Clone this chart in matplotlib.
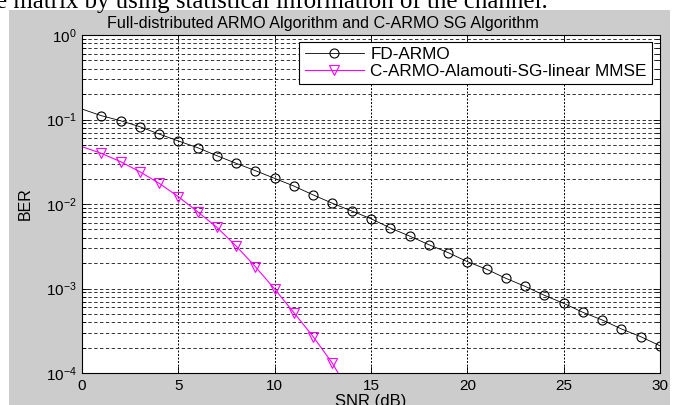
import numpy as np
import matplotlib
matplotlib.use("Agg")
import matplotlib.pyplot as plt
from matplotlib.patches import Rectangle
from matplotlib.ticker import LogLocator, NullFormatter, MultipleLocator

plt.rcParams['font.family'] = ['Liberation Sans', 'DejaVu Sans']
plt.rcParams['mathtext.fontset'] = 'custom'
plt.rcParams['mathtext.rm'] = 'Liberation Sans'
plt.rcParams['mathtext.it'] = 'Liberation Sans'

# values
snr_fd = list(range(0, 31))
ber_fd = [0.133, 0.111, 0.0968, 0.0822, 0.0673, 0.0557, 0.0464, 0.0373, 0.0303,
          0.0248, 0.0201, 0.0163, 0.0128, 0.0102, 0.00826, 0.0067, 0.0052,
          0.00418, 0.0033, 0.00266, 0.00208, 0.00169, 0.00132, 0.00106,
          8.3e-4, 6.67e-4, 5.22e-4, 4.24e-4, 3.32e-4, 2.69e-4, 2.1e-4]

snr_c = list(range(0, 15))
ber_c = [0.0477, 0.0398, 0.0317, 0.0241, 0.0176, 0.0122, 0.0081, 0.0053,
         0.00318, 0.00181, 9.86e-4, 5.17e-4, 2.69e-4, 1.3e-4, 5.3e-5]

labels = ["FD-ARMO", "C-ARMO-Alamouti-SG-linear MMSE"]
title = "Full-distributed ARMO Algorithm and C-ARMO SG Algorithm"

W, H = 673, 405
fig = plt.figure(figsize=(W / 100, H / 100), dpi=100, facecolor="white")

# grey matlab figure background (screenshot crop)
fig.patches.append(Rectangle((9 / W, 0), (670 - 9) / W, (H - 10) / H,
                             transform=fig.transFigure, facecolor="#cccccc",
                             edgecolor="none", zorder=-10))
# cut-off line of body text above the figure
fig.text(-4 / W, 1 - 8 / H, "e matrix by using statistical information of the channel.",
         family="Liberation Serif", fontsize=17.9, va="baseline", ha="left")

ax = fig.add_axes([82 / W, (H - 373) / H, (660 - 82) / W, (373 - 35) / H])
ax.set_facecolor("white")

ax.semilogy(snr_fd, ber_fd, color="black", lw=0.6, marker="o", ms=6.5,
            mfc="none", mec="black", mew=0.8, markevery=slice(1, None),
            label=labels[0])
ax.semilogy(snr_c, ber_c, color="magenta", lw=0.8, marker="v", ms=7,
            mfc="none", mec="magenta", mew=0.8, markevery=slice(1, None),
            label=labels[1])

ax.set_xlim(0, 30)
ax.set_ylim(1e-4, 1)
ax.xaxis.set_major_locator(MultipleLocator(5))
ax.yaxis.set_major_locator(LogLocator(base=10, numticks=10))
ax.yaxis.set_minor_locator(LogLocator(base=10, subs=np.arange(2, 10), numticks=20))
ax.yaxis.set_minor_formatter(NullFormatter())

ax.tick_params(which="both", direction="in", top=True, right=True,
               labelsize=11, width=0.6, colors="black")
ax.tick_params(which="major", length=5, pad=4)
ax.tick_params(which="minor", length=3)
for s in ax.spines.values():
    s.set_linewidth(0.8)

ax.grid(True, axis="x", which="major", color="black", ls=(0, (2, 1.6)), lw=0.7)
ax.grid(True, axis="y", which="both", color="#333333", ls=(0, (3.5, 2.5)), lw=0.7)
ax.set_axisbelow(True)

ax.set_title(title, fontsize=11.6, pad=5, x=(323 - 82) / 578)
ax.set_xlabel("SNR (dB)", fontsize=12, va="top")
ax.xaxis.set_label_coords(0.5, -(394 - 373) / 338)
ax.set_ylabel("BER", fontsize=11.5)
ax.yaxis.set_label_coords(-(82 - 33) / 578, 0.5)

leg = ax.legend(loc="upper right", bbox_to_anchor=(1 - 8 / 578, 1 - 7 / 338),
                borderaxespad=0, fancybox=False, framealpha=1, edgecolor="black",
                fontsize=12.3, handlelength=3.5, handletextpad=0.36,
                borderpad=0.3, labelspacing=0.1)
leg.get_frame().set_linewidth(0.8)

fig.savefig("out.png", dpi=100)
